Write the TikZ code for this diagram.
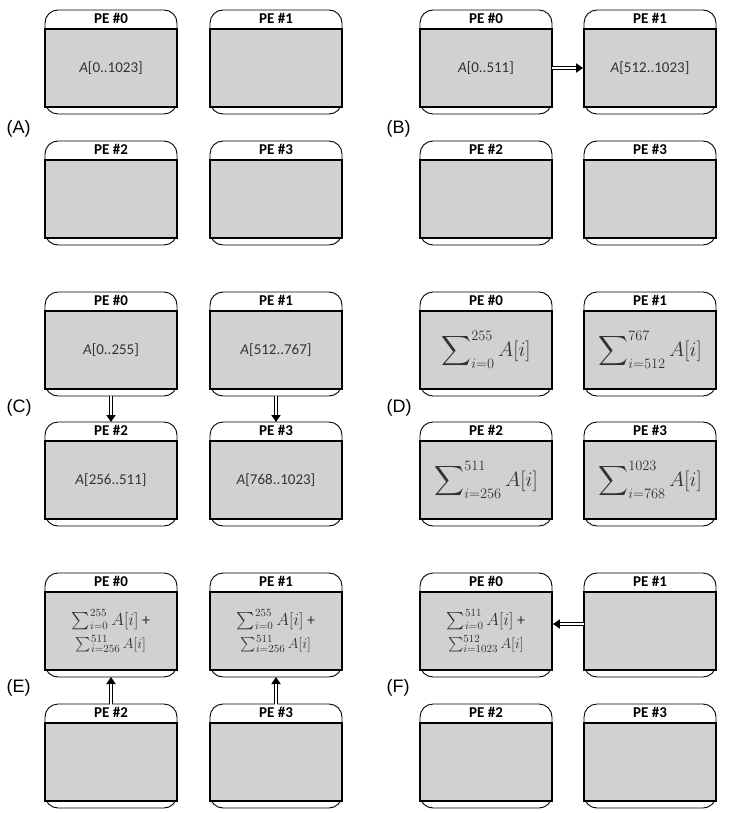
\documentclass[tikz,border=0pt]{standalone}
\usepackage{amsmath}
\usepackage{fontspec}
\setmainfont{Carlito}
\newfontfamily\panelfont{Liberation Sans}
\usetikzlibrary{arrows.meta,positioning}

\newcommand{\peunit}[5]{%
  \draw[peframe] (#2-66,#3) rectangle (#2+66,#3+104);
  \node[pebody] (#1) at (#2,#3+58) {#5};
  \node[petitle, above=0pt of #1] {PE \##4};
  \coordinate (#1-top) at (#2,#3);
  \coordinate (#1-bot) at (#2,#3+104);
}
\newcommand{\sumbig}[2]{\fontsize{20}{22}\selectfont$\displaystyle\sum\nolimits_{#1}^{#2}A[i]$}
\newcommand{\sumtwo}[4]{\fontsize{16}{20}\selectfont$\sum_{#1}^{#2}A[i]$ +\\[4pt]$\sum_{#3}^{#4}A[i]$}

\begin{document}
\begin{tikzpicture}[x=1pt,y=-1pt,
    peframe/.style={draw=black, line width=0.9pt, fill=white, rounded corners=13pt},
    pebody/.style={draw=black, line width=1.8pt, fill=black!18, minimum width=132pt, minimum height=78pt,
      inner sep=0pt, text=black!80, font=\fontsize{15}{18}\selectfont, align=center},
    petitle/.style={minimum width=132pt, minimum height=19pt, inner sep=0pt, font=\fontsize{15}{17}\selectfont\bfseries},
    panel/.style={anchor=west, font=\panelfont\fontsize{18}{20}\selectfont},
    arr/.style={line width=3.2pt, -{Triangle[length=7pt,width=9pt]},
      postaction={draw=white, line width=1.3pt, -, shorten >=7pt, shorten <=-0.5pt}}]
  \useasboundingbox[fill=white] (0,0) rectangle (731,813);

  % (A)
  \peunit{a0}{111}{10}{0}{\textit{A}[0..1023]}
  \peunit{a1}{276}{10}{1}{}
  \peunit{a2}{111}{141}{2}{}
  \peunit{a3}{276}{141}{3}{}
  \node[panel] at (3,129) {(A)};

  % (B)
  \peunit{b0}{486}{10}{0}{\textit{A}[0..511]}
  \peunit{b1}{650}{10}{1}{\textit{A}[512..1023]}
  \peunit{b2}{486}{141}{2}{}
  \peunit{b3}{650}{141}{3}{}
  \node[panel] at (383,129) {(B)};
  \draw[arr] (b0.east) -- (b1.west);

  % (C)
  \peunit{c0}{111}{292}{0}{\textit{A}[0..255]}
  \peunit{c1}{276}{292}{1}{\textit{A}[512..767]}
  \peunit{c2}{111}{422}{2}{\textit{A}[256..511]}
  \peunit{c3}{276}{422}{3}{\textit{A}[768..1023]}
  \node[panel] at (3,408) {(C)};
  \draw[arr] (c0-bot) -- (c2-top);
  \draw[arr] (c1-bot) -- (c3-top);

  % (D)
  \peunit{d0}{486}{292}{0}{\sumbig{i=0}{255}}
  \peunit{d1}{650}{292}{1}{\sumbig{i=512}{767}}
  \peunit{d2}{486}{422}{2}{\sumbig{i=256}{511}}
  \peunit{d3}{650}{422}{3}{\sumbig{i=768}{1023}}
  \node[panel] at (383,408) {(D)};

  % (E)
  \peunit{e0}{111}{573}{0}{\sumtwo{i=0}{255}{i=256}{511}}
  \peunit{e1}{276}{573}{1}{\sumtwo{i=0}{255}{i=256}{511}}
  \peunit{e2}{111}{704}{2}{}
  \peunit{e3}{276}{704}{3}{}
  \node[panel] at (3,688) {(E)};
  \draw[arr] (e2-top) -- (e0-bot);
  \draw[arr] (e3-top) -- (e1-bot);

  % (F)
  \peunit{f0}{486}{573}{0}{\sumtwo{i=0}{511}{i=1023}{512}}
  \peunit{f1}{650}{573}{1}{}
  \peunit{f2}{486}{704}{2}{}
  \peunit{f3}{650}{704}{3}{}
  \node[panel] at (383,688) {(F)};
  \draw[arr] ([yshift=7pt]f1.west) -- ([yshift=7pt]f0.east);
\end{tikzpicture}
\end{document}
